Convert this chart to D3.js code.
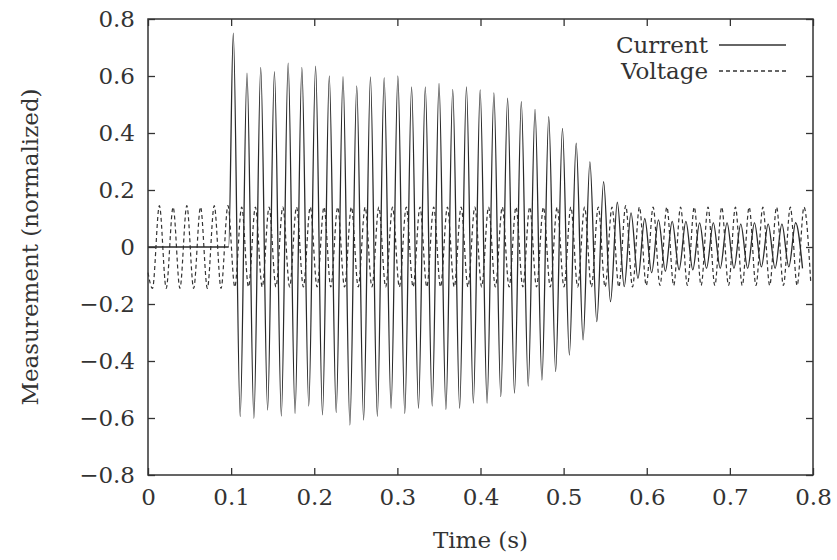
<!DOCTYPE html>
<html>
<head>
<meta charset="utf-8">
<script src="https://cdn.jsdelivr.net/npm/d3@7"></script>
<style>
  body { margin: 0; background: #fff; }
  text { font-family: "DejaVu Serif", "Liberation Serif", serif; fill: #333; }
</style>
</head>
<body>
<svg width="837" height="560"></svg>
<script>
// extrema of the current trace (s, normalized)
var currentTime = [0, 0.097,
  0.1026, 0.1109, 0.1191, 0.1274, 0.1356, 0.1439, 0.1521, 0.1604, 0.1686, 0.1769,
  0.1851, 0.1934, 0.2016, 0.2099, 0.2181, 0.2264, 0.2346, 0.2429, 0.2511, 0.2594,
  0.2676, 0.2759, 0.2841, 0.2924, 0.3006, 0.3089, 0.3171, 0.3254, 0.3336, 0.3419,
  0.3501, 0.3584, 0.3666, 0.3749, 0.3831, 0.3914, 0.3996, 0.4079, 0.4161, 0.4244,
  0.4326, 0.4409, 0.4491, 0.4574, 0.4656, 0.4739, 0.4821, 0.4904, 0.4986, 0.5069,
  0.5151, 0.5234, 0.5316, 0.5399, 0.5481, 0.5564, 0.5646, 0.5729, 0.5811, 0.5894,
  0.5976, 0.6059, 0.6141, 0.6224, 0.6306, 0.6389, 0.6471, 0.6554, 0.6636, 0.6719,
  0.6801, 0.6884, 0.6966, 0.7049, 0.7131, 0.7214, 0.7296, 0.7379, 0.7461, 0.7544,
  0.7626, 0.7709, 0.7791, 0.7874];
var currentValue = [0, 0,
  0.75, -0.595, 0.61, -0.601, 0.63, -0.572, 0.615, -0.593, 0.645, -0.584,
  0.63, -0.558, 0.635, -0.589, 0.60, -0.581, 0.598, -0.625, 0.565, -0.607,
  0.597, -0.594, 0.594, -0.566, 0.60, -0.584, 0.562, -0.566, 0.562, -0.558,
  0.574, -0.570, 0.553, -0.566, 0.562, -0.548, 0.551, -0.548, 0.541, -0.525,
  0.522, -0.513, 0.51, -0.488, 0.483, -0.467, 0.457, -0.437, 0.416, -0.379,
  0.364, -0.326, 0.299, -0.262, 0.229, -0.192, 0.157, -0.139, 0.12, -0.11,
  0.10, -0.09, 0.095, -0.085, 0.09, -0.08, 0.09, -0.08, 0.085, -0.075,
  0.085, -0.075, 0.085, -0.075, 0.08, -0.075, 0.085, -0.07, 0.08, -0.075,
  0.08, -0.07, 0.085, -0.075];

// extrema of the voltage trace
var voltageTime = [0,
  0.0054, 0.0137, 0.0219, 0.0302, 0.0384, 0.0467, 0.0549, 0.0632, 0.0714, 0.0797,
  0.0879, 0.0962, 0.1044, 0.1127, 0.1209, 0.1292, 0.1374, 0.1457, 0.1539, 0.1622,
  0.1704, 0.1787, 0.1869, 0.1952, 0.2034, 0.2117, 0.2199, 0.2282, 0.2364, 0.2447,
  0.2529, 0.2612, 0.2694, 0.2777, 0.2859, 0.2942, 0.3024, 0.3107, 0.3189, 0.3272,
  0.3354, 0.3437, 0.3519, 0.3602, 0.3684, 0.3767, 0.3849, 0.3932, 0.4014, 0.4097,
  0.4179, 0.4262, 0.4344, 0.4427, 0.4509, 0.4592, 0.4674, 0.4757, 0.4839, 0.4922,
  0.5004, 0.5087, 0.5169, 0.5252, 0.5334, 0.5417, 0.5499, 0.5582, 0.5664, 0.5747,
  0.5829, 0.5912, 0.5994, 0.6077, 0.6159, 0.6242, 0.6324, 0.6407, 0.6489, 0.6572,
  0.6654, 0.6737, 0.6819, 0.6902, 0.6984, 0.7067, 0.7149, 0.7232, 0.7314, 0.7397,
  0.7479, 0.7562, 0.7644, 0.7727, 0.7809, 0.7892, 0.7974];
var voltageValue = [-0.09,
  -0.145, 0.145, -0.145, 0.14, -0.145, 0.145, -0.145, 0.14, -0.145, 0.145,
  -0.145, 0.145, -0.14, 0.14, -0.14, 0.14, -0.14, 0.14, -0.14, 0.14,
  -0.14, 0.14, -0.14, 0.14, -0.14, 0.14, -0.14, 0.14, -0.14, 0.14,
  -0.14, 0.14, -0.14, 0.14, -0.14, 0.14, -0.14, 0.14, -0.14, 0.14,
  -0.14, 0.14, -0.14, 0.14, -0.14, 0.14, -0.14, 0.14, -0.14, 0.14,
  -0.14, 0.14, -0.14, 0.14, -0.14, 0.14, -0.14, 0.14, -0.14, 0.14,
  -0.14, 0.14, -0.14, 0.14, -0.14, 0.14, -0.14, 0.14, -0.14, 0.145,
  -0.14, 0.14, -0.135, 0.14, -0.135, 0.14, -0.135, 0.14, -0.135, 0.14,
  -0.135, 0.14, -0.135, 0.14, -0.135, 0.14, -0.135, 0.14, -0.135, 0.14,
  -0.135, 0.14, -0.135, 0.14, -0.135, 0.14, -0.13];

var xTicks = [0, 0.1, 0.2, 0.3, 0.4, 0.5, 0.6, 0.7, 0.8];
var yTicks = [-0.8, -0.6, -0.4, -0.2, 0, 0.2, 0.4, 0.6, 0.8];
var seriesNames = ['Current', 'Voltage'];

function main() {
  var svg = d3.select('svg'),
    margin = {top: 19, right: 24, bottom: 85, left: 148},
    width = +svg.attr('width') - margin.left - margin.right,
    height = +svg.attr('height') - margin.top - margin.bottom;

  var g = svg.append('g')
    .attr('transform', 'translate(' + margin.left + ',' + margin.top + ')');

  var x = d3.scaleLinear().domain([0, 0.8]).range([0, width]);
  var y = d3.scaleLinear().domain([-0.8, 0.8]).range([height, 0]);

  var fmt = function(d) { return d === 0 ? '0' : d3.format('.1f')(d); };

  // traces
  var line = d3.line().curve(d3.curveMonotoneX)
    .x(function(d) { return x(d[0]); })
    .y(function(d) { return y(d[1]); });

  var current = d3.zip(currentTime, currentValue);
  var voltage = d3.zip(voltageTime, voltageValue);

  g.append('path').datum(voltage)
    .attr('d', line)
    .attr('fill', 'none')
    .attr('stroke', '#333')
    .attr('stroke-width', 1.2)
    .attr('stroke-dasharray', '4,3');

  g.append('path').datum(current)
    .attr('d', line)
    .attr('fill', 'none')
    .attr('stroke', '#2a2a2a')
    .attr('stroke-width', 1.3);

  // axes, ticks inward on all four sides
  var bottom = g.append('g').attr('transform', 'translate(0,' + height + ')')
    .call(d3.axisBottom(x).tickValues(xTicks).tickSize(-7).tickPadding(14).tickFormat(fmt));
  var left = g.append('g')
    .call(d3.axisLeft(y).tickValues(yTicks).tickSize(-7).tickPadding(13).tickFormat(fmt));
  g.append('g')
    .call(d3.axisTop(x).tickValues(xTicks).tickSize(-7).tickFormat(''));
  g.append('g').attr('transform', 'translate(' + width + ',0)')
    .call(d3.axisRight(y).tickValues(yTicks).tickSize(-7).tickFormat(''));

  g.selectAll('.domain').remove();
  g.selectAll('.tick line').attr('stroke', '#333').attr('stroke-width', 1.3);
  g.selectAll('.tick text').style('font-size', '23px').attr('fill', '#333');

  g.append('rect')
    .attr('width', width).attr('height', height)
    .attr('fill', 'none')
    .attr('stroke', '#333')
    .attr('stroke-width', 1.5);

  // axis titles
  svg.append('text')
    .attr('x', margin.left + width / 2)
    .attr('y', 548)
    .attr('text-anchor', 'middle')
    .style('font-size', '23px')
    .text('Time (s)');

  svg.append('text')
    .attr('transform', 'translate(38,' + (margin.top + height / 2) + ') rotate(-90)')
    .attr('text-anchor', 'middle')
    .style('font-size', '23px')
    .text('Measurement (normalized)');

  // legend
  var legend = g.selectAll('g.legend')
    .data(seriesNames)
    .enter().append('g')
    .attr('class', 'legend')
    .attr('transform', function(d, i) { return 'translate(0,' + (26 + i * 26) + ')'; });

  legend.append('text')
    .attr('x', 560)
    .attr('dy', '0.35em')
    .attr('text-anchor', 'end')
    .style('font-size', '23px')
    .text(function(d) { return d; });

  legend.append('line')
    .attr('x1', 571).attr('x2', 638)
    .attr('stroke', '#333')
    .attr('stroke-width', 1.3)
    .attr('stroke-dasharray', function(d, i) { return i ? '4,3' : null; });
}
main();
</script>
</body>
</html>
